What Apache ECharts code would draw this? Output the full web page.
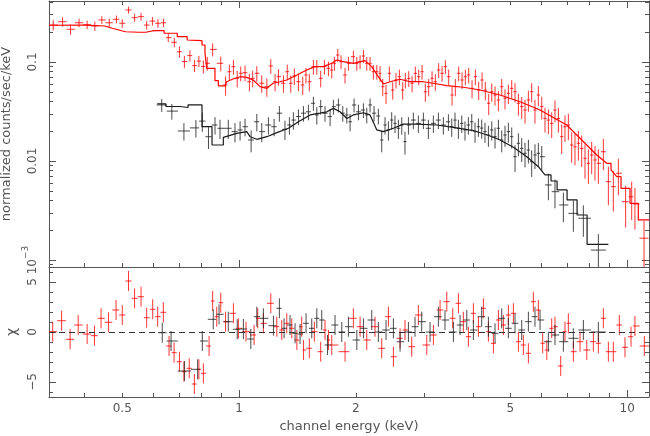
<!DOCTYPE html>
<html>
<head>
<meta charset="utf-8"/>
<title>spectrum</title>
<script src="https://cdn.jsdelivr.net/npm/echarts@6/dist/echarts.min.js"></script>
</head>
<body style="margin:0">
<div id="main" style="width:650px;height:436px"></div>
<script type="text/javascript">
// red data set: bin centre (keV), normalized counts/sec/keV, relative error
var redE = [0.332,0.351,0.368,0.387,0.406,0.425,0.443,0.463,0.483,0.500,0.519,0.538,0.559,0.578,0.598,0.618,0.639,0.657,0.681,0.702,0.723,0.747,0.768,0.788,0.809,
  0.828,0.855,0.897,0.923,0.944,0.967,0.989,1.010,1.036,1.063,1.084,1.111,1.144,1.179,1.207,1.238,1.263,1.301,1.331,1.359,1.388,1.422,1.459,1.487,1.517,1.554,1.586,1.623,1.659,1.699,1.733,1.760,1.796,1.831,1.875,1.913,
  1.970,2.011,2.050,2.091,2.133,2.175,2.218,2.264,2.308,2.345,2.391,2.439,2.488,2.537,2.588,2.640,2.681,2.736,2.791,2.845,2.903,2.961,3.019,3.080,3.142,3.204,3.268,3.334,3.400,3.468,3.538,3.607,3.680,3.754,3.828,3.905,3.983,4.062,4.144,4.227,4.310,4.397,
  4.477,4.565,4.657,4.750,4.843,4.941,5.040,5.140,5.244,5.348,5.454,5.564,5.674,5.786,5.903,6.022,6.140,6.265,6.390,6.515,6.648,6.780,6.913,7.053,7.194,7.336,7.485,7.634,7.785,7.942,8.100,8.260,8.427,8.680,8.942,9.210,9.489,9.907,10.27,10.47,11.05];
var redV = [0.236,0.255,0.214,0.249,0.238,0.231,0.266,0.249,0.270,0.246,0.335,0.280,0.287,0.236,0.259,0.246,0.249,0.176,0.158,0.127,0.101,0.116,0.092,0.102,0.090,
  0.097,0.134,0.097,0.0586,0.0798,0.0897,0.0684,0.0769,0.078,0.0632,0.0684,0.0769,0.061,0.0563,0.0912,0.0632,0.071,0.061,0.0798,0.061,0.0722,0.0632,0.0586,0.0739,0.0632,0.0897,0.0897,0.0684,0.0897,0.0863,0.083,0.097,0.1177,0.1007,0.0739,0.097,
  0.1131,0.097,0.1007,0.115,0.097,0.097,0.0798,0.0798,0.0769,0.0563,0.0483,0.0769,0.0521,0.0658,0.071,0.0521,0.0658,0.0684,0.061,0.0769,0.071,0.0798,0.0501,0.0563,0.0684,0.0632,0.083,0.0769,0.0897,0.071,0.0464,0.0563,0.0769,0.0658,0.071,0.0739,0.0542,0.071,0.0521,0.0658,0.0521,0.0383,
  0.0501,0.0464,0.0413,0.0563,0.0430,0.0483,0.0542,0.0501,0.0383,0.0354,0.0327,0.0413,0.0501,0.0327,0.0464,0.0354,0.0269,0.0259,0.0240,0.0327,0.0269,0.0176,0.0222,0.0231,0.0145,0.0139,0.0151,0.0134,0.01065,0.00948,0.0115,0.01024,0.00948,0.0124,0.00618,0.00551,0.00752,0.00388,0.00436,0.00368,0.00166];
var redErr = [0.12,0.11,0.12,0.10,0.10,0.11,0.09,0.10,0.09,0.10,0.08,0.09,0.09,0.10,0.10,0.10,0.10,0.10,0.11,0.13,0.14,0.13,0.14,0.13,0.15,
  0.16,0.15,0.17,0.22,0.18,0.17,0.19,0.17,0.18,0.20,0.19,0.18,0.20,0.21,0.17,0.20,0.19,0.20,0.18,0.20,0.19,0.20,0.21,0.18,0.20,0.17,0.17,0.19,0.17,0.17,0.18,0.16,0.15,0.16,0.18,0.16,
  0.15,0.16,0.16,0.15,0.16,0.16,0.17,0.17,0.18,0.20,0.22,0.17,0.20,0.18,0.18,0.20,0.18,0.18,0.19,0.17,0.18,0.17,0.21,0.20,0.18,0.19,0.17,0.18,0.16,0.18,0.22,0.20,0.17,0.19,0.18,0.18,0.21,0.18,0.21,0.19,0.21,0.24,
  0.21,0.22,0.23,0.20,0.23,0.22,0.21,0.22,0.25,0.25,0.27,0.24,0.22,0.27,0.23,0.26,0.28,0.28,0.29,0.25,0.28,0.33,0.30,0.30,0.34,0.35,0.33,0.35,0.38,0.38,0.36,0.38,0.38,0.35,0.42,0.44,0.40,0.45,0.42,0.45,0.50];

// black data set
var blackE = [0.632,0.671,0.721,0.774,0.804,0.834,0.867,0.893,0.938,0.976,1.006,1.036,1.074,1.111,1.144,1.190,1.231,1.270,1.313,1.348,
  1.380,1.422,1.465,1.509,1.554,1.586,1.623,1.665,1.716,1.750,1.803,1.850,1.895,1.932,1.978,2.030,2.091,2.133,2.175,2.227,
  2.285,2.331,2.377,2.425,2.473,2.522,2.573,2.625,2.676,2.731,2.812,2.897,2.984,3.074,3.167,3.262,3.360,3.462,3.531,3.600,
  3.673,3.747,3.820,3.898,3.976,4.054,4.136,4.218,4.301,4.389,4.477,4.565,4.657,4.750,4.843,4.941,5.040,5.140,5.244,5.348,
  5.454,5.564,5.674,5.786,5.903,6.022,6.265,6.515,6.847,7.265,7.709,8.427];
var blackV = [0.0368,0.0319,0.0201,0.0216,0.0253,0.0176,0.0231,0.0214,0.0214,0.0198,0.0206,0.0222,0.0163,0.0249,0.0198,0.0231,0.0222,0.0304,0.0209,0.0231,
  0.0259,0.0281,0.0304,0.0314,0.0383,0.0292,0.0354,0.0304,0.0281,0.0354,0.0368,0.0304,0.0292,0.0249,0.0368,0.0314,0.0327,0.0292,0.0368,0.0304,
  0.0285,0.0163,0.0231,0.0206,0.0259,0.0240,0.0214,0.0231,0.0157,0.0231,0.0259,0.0240,0.0259,0.0214,0.0240,0.0259,0.0231,0.0249,0.0222,0.0259,
  0.0214,0.0240,0.0206,0.0231,0.0249,0.0198,0.0222,0.0215,0.0198,0.0183,0.0206,0.0176,0.0214,0.0163,0.0183,0.0198,0.0176,0.01105,0.0151,0.0134,
  0.01196,0.0129,0.00984,0.0115,0.01196,0.01105,0.00573,0.0049,0.0036,0.00296,0.00264,0.00126];
var blackErr = [0.15,0.18,0.20,0.20,0.22,0.25,0.20,0.22,0.22,0.22,0.22,0.20,0.25,0.20,0.22,0.20,0.20,0.18,0.22,0.20,
  0.20,0.18,0.18,0.18,0.16,0.20,0.17,0.18,0.20,0.17,0.16,0.18,0.18,0.20,0.16,0.18,0.17,0.18,0.16,0.18,
  0.18,0.25,0.20,0.22,0.20,0.20,0.22,0.20,0.26,0.20,0.19,0.20,0.19,0.22,0.20,0.19,0.20,0.19,0.21,0.19,
  0.22,0.20,0.22,0.20,0.20,0.23,0.21,0.22,0.23,0.24,0.22,0.24,0.22,0.25,0.24,0.23,0.24,0.30,0.26,0.27,
  0.28,0.27,0.30,0.28,0.27,0.28,0.30,0.32,0.33,0.35,0.35,0.45];

// folded model curves (step outlines)
var redModelE = [0.324,0.401,0.451,0.471,0.510,0.552,0.5755,0.5966,0.609,0.641,0.641,0.693,0.693,0.735,0.735,0.8026,0.8026,0.8168,0.8168,0.8255,
  0.8255,0.8667,0.8667,0.8843,0.8843,0.9197,0.929,0.9646,1.006,1.047,1.087,1.133,1.179,1.2235,1.2754,1.327,1.4085,1.4946,1.569,1.649,
  1.733,1.786,1.857,1.970,2.111,2.197,2.285,2.354,2.449,2.599,2.7575,2.984,3.167,3.429,3.783,4.177,4.703,5.295,5.962,6.585,
  6.987,7.414,7.867,8.348,8.858,9.085,9.085,9.399,9.640,9.640,10.168,10.168,10.68,10.68,11.38];
var redModelV = [0.235,0.236,0.231,0.219,0.202,0.1996,0.1996,0.2057,0.207,0.207,0.195,0.195,0.180,0.180,0.1668,0.1641,0.1485,0.1485,0.1224,0.1224,
  0.0863,0.0863,0.0647,0.0647,0.0573,0.0573,0.0632,0.0673,0.071,0.070,0.0658,0.0563,0.0542,0.061,0.0632,0.0658,0.0739,0.083,0.0897,0.0897,
  0.097,0.1048,0.1007,0.097,0.1031,0.0897,0.071,0.060,0.0632,0.0669,0.0632,0.0632,0.061,0.0577,0.0556,0.0521,0.0464,0.0397,0.0327,0.0263,
  0.0231,0.0183,0.0145,0.0115,0.00948,0.00948,0.00812,0.00695,0.00695,0.0053,0.0053,0.00374,0.00374,0.00254,0.00254];
var blackModelE = [0.6153,0.648,0.648,0.7044,0.7044,0.7387,0.7387,0.8026,0.8026,0.8517,0.8517,0.9108,0.9108,0.9863,1.047,1.0674,1.111,1.179,1.251,1.340,
  1.422,1.524,1.617,1.683,1.750,1.8205,1.895,1.970,2.091,2.175,2.264,2.354,2.498,2.650,2.870,3.231,3.566,4.015,4.432,4.703,
  5.090,5.511,5.903,6.140,6.364,6.364,6.597,6.597,7.0,7.0,7.428,7.428,7.882,7.882,8.942];
var blackModelV = [0.0377,0.0377,0.0355,0.0355,0.0347,0.0347,0.0368,0.0368,0.0222,0.0222,0.0145,0.0145,0.01735,0.0190,0.0198,0.0176,0.01656,0.0176,0.01934,0.0214,
  0.0249,0.0292,0.0304,0.0314,0.0340,0.0314,0.0269,0.0292,0.0307,0.0292,0.0206,0.0198,0.0214,0.0236,0.0236,0.0231,0.0219,0.0203,0.0179,0.0163,
  0.01375,0.01105,0.00876,0.00723,0.00723,0.00628,0.00628,0.0051,0.0051,0.00404,0.00404,0.00285,0.00285,0.00144,0.00144];

// residuals (chi)
var resRedE = [0.331,0.349,0.367,0.385,0.406,0.424,0.441,0.461,0.482,0.500,0.519,0.538,0.559,0.578,0.599,0.617,0.638,0.660,0.680,0.702,
  0.721,0.744,0.767,0.788,0.809,0.837,0.855,0.876,0.897,0.923,0.967,0.996,1.042,1.093,1.117,1.155,1.207,1.251,1.288,1.327,
  1.367,1.409,1.450,1.465,1.517,1.563,1.623,1.665,1.699,1.733,1.875,1.970,2.050,2.133,2.240,2.331,2.425,2.498,2.599,2.676,
  2.785,2.897,3.045,3.167,3.295,3.429,3.552,3.673,3.783,3.898,4.015,4.136,4.260,4.389,4.521,4.657,4.797,4.941,5.090,5.244,
  5.401,5.564,5.730,5.903,6.057,6.206,6.390,6.515,6.740,6.913,7.053,7.265,7.559,7.867,8.180,8.427,8.680,8.942,9.210,9.543,
  9.869,10.23,10.47,11.07];
var resRedChi = [0.03,1.13,-0.73,0.7,-0.2,-0.37,1.37,0.97,2.2,1.7,5.1,3.37,3.53,1.43,2.27,1.53,1.97,-1.4,-2.07,-2.97,
  -3.97,-3.63,-5.2,-3.73,-4.13,-1.4,3.1,1.53,2.93,1.03,1.87,0.37,0.03,-0.3,1.37,0.87,2.87,0.53,0.2,0.87,
  0.37,-0.8,0.53,-1.8,-1.63,0.03,-1.97,0.2,-0.8,-1.3,-1.97,1.37,0.53,-0.8,0.53,-1.63,1.53,-2.47,-0.63,0.2,
  -1.47,1.7,-1.3,-0.3,2.2,3.03,1.37,2.87,1.03,-0.47,1.87,0.53,2.37,0.03,-1.13,1.2,0.7,1.7,1.87,-0.97,
  -1.3,-2.13,3.03,2.2,-1.13,-1.8,0.37,0.53,-3.4,0.03,0.87,-1.97,-0.97,-1.8,-0.97,-1.13,1.37,-1.97,-1.97,0.7,
  -1.53,-0.47,0.6,-1.4];
var resBlackE = [0.634,0.668,0.723,0.782,0.804,0.858,0.888,0.938,0.989,1.026,1.072,1.111,1.155,1.226,1.270,1.306,1.353,1.394,1.436,1.488,
  1.539,1.586,1.633,1.690,1.767,1.839,1.913,2.011,2.091,2.197,2.285,2.391,2.498,2.599,2.731,2.840,2.955,3.105,3.262,3.393,
  3.566,3.710,3.861,4.015,4.218,4.389,4.565,4.750,4.941,5.140,5.348,5.564,5.786,5.962,6.265,6.515,6.847,7.265,7.709,8.427];
var resBlackChi = [-0.07,-0.9,-3.9,-3.73,-0.9,1.27,1.77,1.03,0.27,0.3,-0.7,1.53,1.37,0.63,2.37,0.37,0.7,-0.13,-0.2,0.87,
  0.37,1.37,1.2,-1.3,0.7,0,0.53,-0.8,0.37,1.2,0,0.2,0.37,-0.97,0,0.53,1.03,0,1.53,1.2,
  0,0.7,1.2,0.2,1.53,0.53,-0.13,1.37,0.37,0.87,0.2,1.03,1.53,1.2,-0.97,-0.3,-0.97,-0.63,0.2,0];

// axis ranges and tick values
var xMin = 0.3238, xMax = 11.38;
var yMin = 0.00085, yMax = 0.413;
var chiMin = -6.5, chiMax = 6.5;
var xMajor = [1, 10];
var xMinor = [0.4, 0.5, 0.6, 0.7, 0.8, 0.9, 2, 3, 4, 5, 6, 7, 8, 9];
var xLabels = [0.5, 1, 2, 5, 10];
var yMajor = [0.001, 0.01, 0.1];
var yMinor = [0.0009, 0.002, 0.003, 0.004, 0.005, 0.006, 0.007, 0.008, 0.009,
  0.02, 0.03, 0.04, 0.05, 0.06, 0.07, 0.08, 0.09, 0.2, 0.3, 0.4];
var chiMajor = [-5, 0, 5];
var chiMinor = [-6, -4, -3, -2, -1, 1, 2, 3, 4, 6];

var frame = '#555';
var txt = {color: '#555', fontFamily: 'DejaVu Sans', fontSize: 13};

function binEdges(E) {
    var lo = [], hi = [];
    for (var i = 0; i < E.length; i++) {
        var l = i > 0 ? Math.sqrt(E[i - 1] * E[i]) : null;
        var h = i < E.length - 1 ? Math.sqrt(E[i] * E[i + 1]) : null;
        if (l === null) l = E[i] * E[i] / h;
        if (h === null) h = E[i] * E[i] / l;
        lo.push(l); hi.push(h);
    }
    return [lo, hi];
}
function fluxPoints(E, V, rel) {
    var b = binEdges(E);
    return E.map(function (e, i) {
        return [e, V[i], b[0][i], b[1][i], V[i] * (1 - rel[i]), V[i] * (1 + rel[i])];
    });
}
function chiPoints(E, C) {
    var b = binEdges(E);
    return E.map(function (e, i) {
        return [e, C[i], b[0][i], b[1][i], C[i] - 1, C[i] + 1];
    });
}
function pairs(E, V) {
    return E.map(function (e, i) { return [e, V[i]]; });
}
function cross(color) {
    return function (params, api) {
        var x = api.value(0), y = api.value(1);
        var a = api.coord([api.value(2), y]), b = api.coord([api.value(3), y]);
        var c = api.coord([x, api.value(4)]), d = api.coord([x, api.value(5)]);
        var st = {stroke: color, lineWidth: 1};
        return {type: 'group', children: [
            {type: 'line', shape: {x1: a[0], y1: a[1], x2: b[0], y2: b[1]}, style: st},
            {type: 'line', shape: {x1: c[0], y1: c[1], x2: d[0], y2: d[1]}, style: st}
        ]};
    };
}

function axis(type, grid, pos, min, max, ticks, len, line) {
    var a = {
        type: type, gridIndex: grid, position: pos, min: min, max: max,
        axisLine: {show: line, onZero: false, lineStyle: {color: frame, width: 1}},
        axisTick: {show: true, inside: true, length: len, customValues: ticks, lineStyle: {color: frame, width: 1}},
        axisLabel: {show: false},
        splitLine: {show: false}
    };
    if (type === 'log') a.logBase = 10;
    return a;
}

var xAxes = [
    axis('log', 0, 'bottom', xMin, xMax, xMajor, 7, true),
    axis('log', 0, 'bottom', xMin, xMax, xMinor, 4, false),
    axis('log', 0, 'top', xMin, xMax, xMajor, 7, true),
    axis('log', 0, 'top', xMin, xMax, xMinor, 4, false),
    axis('log', 1, 'bottom', xMin, xMax, xMajor, 7, true),
    axis('log', 1, 'bottom', xMin, xMax, xMinor, 4, false)
];
xAxes[4].axisLabel = {show: true, customValues: xLabels, margin: 6, color: txt.color,
    fontFamily: txt.fontFamily, fontSize: 12, formatter: function (v) { return String(v); }};
xAxes[4].name = 'channel energy (keV)';
xAxes[4].nameLocation = 'middle';
xAxes[4].nameGap = 23;
xAxes[4].nameTextStyle = txt;

var yAxes = [
    axis('log', 0, 'left', yMin, yMax, yMajor, 7, true),
    axis('log', 0, 'left', yMin, yMax, yMinor, 4, false),
    axis('log', 0, 'right', yMin, yMax, yMajor, 7, true),
    axis('log', 0, 'right', yMin, yMax, yMinor, 4, false),
    axis('value', 1, 'left', chiMin, chiMax, chiMajor, 7, true),
    axis('value', 1, 'left', chiMin, chiMax, chiMinor, 4, false),
    axis('value', 1, 'right', chiMin, chiMax, chiMajor, 7, true),
    axis('value', 1, 'right', chiMin, chiMax, chiMinor, 4, false)
];
yAxes[0].axisLabel = {show: true, customValues: yMajor, rotate: 90, margin: 10, color: txt.color,
    fontFamily: txt.fontFamily, fontSize: 12,
    formatter: function (v) { return v < 0.005 ? '{b|10}{s|\u22123}' : String(v); },
    rich: {
        b: {fontFamily: txt.fontFamily, fontSize: 12, color: txt.color, lineHeight: 18, verticalAlign: 'bottom'},
        s: {fontFamily: txt.fontFamily, fontSize: 9, color: txt.color, lineHeight: 10, verticalAlign: 'top'}
    }};
yAxes[0].name = 'normalized counts/sec/keV';
yAxes[0].nameLocation = 'middle';
yAxes[0].nameGap = 30;
yAxes[0].nameTextStyle = txt;
yAxes[4].axisLabel = {show: true, customValues: chiMajor, rotate: 90, margin: 10, color: txt.color,
    fontFamily: txt.fontFamily, fontSize: 12,
    formatter: function (v) { return v < 0 ? '\u2212' + (-v) : String(v); }};
yAxes[4].name = '\u03c7';
yAxes[4].nameLocation = 'middle';
yAxes[4].nameGap = 30;
yAxes[4].nameTextStyle = {color: txt.color, fontFamily: txt.fontFamily, fontSize: 14};

var myChart = echarts.init(document.getElementById('main'));
var option = {
    animation: false,
    backgroundColor: '#fff',
    grid: [
        {left: 49, top: 1, width: 600, height: 266, outerBoundsMode: 'none'},
        {left: 49, top: 267, width: 600, height: 130, outerBoundsMode: 'none'}
    ],
    xAxis: xAxes,
    yAxis: yAxes,
    series: [
        {type: 'custom', name: 'red data', xAxisIndex: 0, yAxisIndex: 0, clip: true,
            renderItem: cross('rgba(255,0,0,0.8)'), encode: {x: 0, y: 1},
            data: fluxPoints(redE, redV, redErr)},
        {type: 'custom', name: 'black data', xAxisIndex: 0, yAxisIndex: 0, clip: true,
            renderItem: cross('rgba(30,30,30,0.8)'), encode: {x: 0, y: 1},
            data: fluxPoints(blackE, blackV, blackErr)},
        {type: 'line', name: 'red model', xAxisIndex: 0, yAxisIndex: 0, showSymbol: false, z: 3,
            lineStyle: {color: '#ff0000', width: 1.2}, data: pairs(redModelE, redModelV)},
        {type: 'line', name: 'black model', xAxisIndex: 0, yAxisIndex: 0, showSymbol: false, z: 3,
            lineStyle: {color: '#1a1a1a', width: 1.2}, data: pairs(blackModelE, blackModelV)},
        {type: 'custom', name: 'red chi', xAxisIndex: 4, yAxisIndex: 4, clip: true,
            renderItem: cross('rgba(255,0,0,0.8)'), encode: {x: 0, y: 1},
            data: chiPoints(resRedE, resRedChi)},
        {type: 'custom', name: 'black chi', xAxisIndex: 4, yAxisIndex: 4, clip: true,
            renderItem: cross('rgba(30,30,30,0.8)'), encode: {x: 0, y: 1},
            data: chiPoints(resBlackE, resBlackChi),
            markLine: {silent: true, symbol: 'none', label: {show: false},
                lineStyle: {type: [6, 4], color: '#333', width: 1},
                data: [{yAxis: 0}]}}
    ]
};
myChart.setOption(option);
</script>
</body>
</html>
